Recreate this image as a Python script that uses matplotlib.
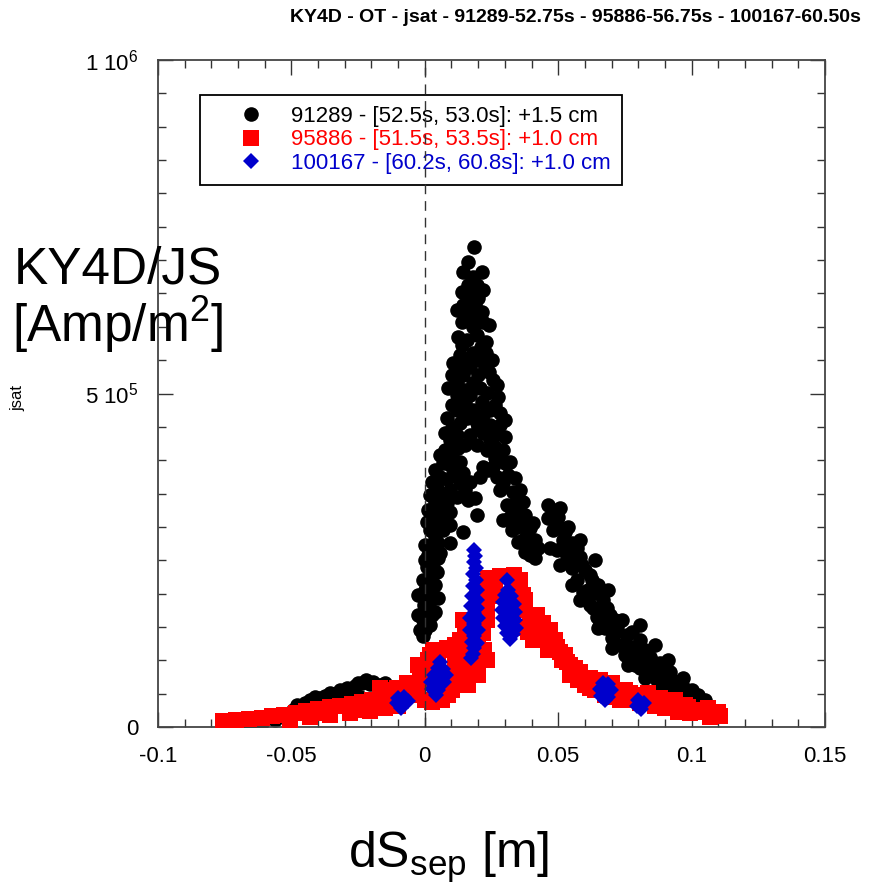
import matplotlib
matplotlib.use("Agg")
import matplotlib.pyplot as plt
from matplotlib.ticker import MultipleLocator

plt.rcParams['font.family'] = ['Liberation Sans', 'DejaVu Sans']
plt.rcParams['mathtext.fontset'] = 'custom'
plt.rcParams['mathtext.rm'] = 'Liberation Sans'
plt.rcParams['mathtext.it'] = 'Liberation Sans:italic'
plt.rcParams['mathtext.default'] = 'regular'

# --- data (x: dS_sep [m], y: jsat [A/m^2]) ---
# 91289: main peak, right shoulder, left tail
x_91289 = [0.0184, 0.0142, 0.0180, 0.0214, 0.0217, 0.0139, 0.0142, 0.0187, 0.0214, 0.0139,
           0.0217, 0.0180, 0.0124, 0.0195, 0.0229, 0.0131, 0.0180, 0.0229, 0.0120, 0.0169,
           0.0225, 0.0255, 0.0120, 0.0180, 0.0120, 0.0169, 0.0232, 0.0274, 0.0120, 0.0180,
           0.0244, 0.0281, 0.0082, 0.0131, 0.0195, 0.0244, 0.0075, 0.0120, 0.0169, 0.0217,
           0.0262, 0.0300, 0.0075, 0.0124, 0.0232, 0.0292, 0.0067, 0.0131, 0.0217, 0.0300,
           0.0056, 0.0105, 0.0142, 0.0206, 0.0270, 0.0311, 0.0045, 0.0094, 0.0150, 0.0281,
           0.0330, 0.0356, 0.0187, 0.0037, 0.0082, 0.0161, 0.0307, 0.0367, 0.0030, 0.0067,
           0.0195, 0.0319, 0.0375, 0.0019, 0.0067, 0.0142, 0.0345, 0.0394, 0.0049, 0.0094,
           0.0367, 0.0412, 0.0011, 0.0394, 0.0412, 0.0007, 0.0030, -0.0007, 0.0037, 0.0007,
           0.0011, -0.0007, -0.0019, 0.0000, 0.0405,
           0.0161, 0.0199, 0.0161, 0.0199, 0.0157, 0.0210, 0.0154, 0.0202, 0.0142, 0.0199,
           0.0240, 0.0150, 0.0206, 0.0101, 0.0150, 0.0214, 0.0262, 0.0157, 0.0217, 0.0281,
           0.0101, 0.0150, 0.0195, 0.0262, 0.0101, 0.0262, 0.0094, 0.0255, 0.0082, 0.0169,
           0.0292, 0.0067, 0.0120, 0.0345, 0.0056, 0.0337, 0.0045, 0.0356, 0.0037, 0.0382,
           0.0026, 0.0056, 0.0401, 0.0019, 0.0000, 0.0022, -0.0004, 0.0007, 0.0045, 0.0030,
           0.0026, -0.0007,
           0.0161, 0.0195, 0.0120, 0.0169, 0.0240, 0.0105, 0.0251, 0.0139, 0.0086, 0.0101,
           0.0270, 0.0139, 0.0300, 0.0199, 0.0094, 0.0244, 0.0056, 0.0319, 0.0037, 0.0120,
           0.0236, 0.0337, 0.0026, 0.0131, 0.0019, 0.0011, 0.0094, 0.0007, 0.0094, 0.0292,
           0.0326, 0.0349, 0.0375, 0.0424, 0.0049, 0.0000, 0.0000, 0.0049, 0.0037, 0.0019,
           -0.0026, -0.0026,
           0.0461, 0.0480, 0.0506, 0.0498, 0.0536, 0.0480, 0.0517, 0.0551, 0.0495, 0.0532,
           0.0581, 0.0506, 0.0551, 0.0600, 0.0570, 0.0626, 0.0592, 0.0641, 0.0581, 0.0618,
           0.0667, 0.0645, 0.0693, 0.0675, 0.0720, 0.0701, 0.0757, 0.0731, 0.0780, 0.0768,
           0.0813, 0.0832, 0.0862, 0.0881, 0.0907, 0.0892, 0.0937, 0.0945, 0.0982, 0.0993,
           0.1023, 0.1031, 0.1042,
           0.0487, 0.0525, 0.0562, 0.0588, 0.0611, 0.0656, 0.0656, 0.0712, 0.0750, 0.0806,
           0.0806, 0.0843, 0.0862, 0.0918, 0.0911, 0.0964, 0.0975, 0.1012, 0.1049,
           0.0461, 0.0506, 0.0469, 0.0570, 0.0525, 0.0543, 0.0618, 0.0648, 0.0611, 0.0630,
           0.0682, 0.0667, 0.0738, 0.0693, 0.0712, 0.0776, 0.0750, 0.0802, 0.0825, 0.0787,
           0.0851, 0.0881, 0.0870, 0.0896, 0.0926, 0.0956, 0.1001, 0.1012,
           0.0551, 0.0648, 0.0701, 0.0761, 0.0825, 0.0881, 0.0937,
           0.0581, 0.0637, 0.0686, 0.0806, 0.0862, 0.0911, 0.0967,
           -0.0656, -0.0611, -0.0562, -0.0513, -0.0480, -0.0469, -0.0431, -0.0401, -0.0375, -0.0345,
           -0.0319, -0.0292, -0.0262, -0.0236, -0.0206, -0.0169, -0.0139, -0.0120, -0.0319, -0.0244,
           -0.0169, -0.0394, -0.0281, -0.0450, -0.0412, -0.0356, -0.0251, -0.0221, -0.0195, -0.0150,
           -0.0495]
y_91289 = [720e3, 682e3, 675e3, 682e3, 655e3, 652e3, 633e3, 633e3, 622e3, 607e3,
           607e3, 600e3, 585e3, 588e3, 577e3, 558e3, 561e3, 561e3, 538e3, 540e3,
           538e3, 520e3, 516e3, 516e3, 498e3, 498e3, 501e3, 495e3, 475e3, 475e3,
           475e3, 471e3, 463e3, 456e3, 456e3, 453e3, 441e3, 438e3, 438e3, 441e3,
           438e3, 435e3, 415e3, 418e3, 415e3, 415e3, 396e3, 397e3, 390e3, 396e3,
           375e3, 378e3, 381e3, 375e3, 375e3, 378e3, 358e3, 355e3, 355e3, 355e3,
           352e3, 355e3, 343e3, 337e3, 336e3, 340e3, 333e3, 337e3, 318e3, 315e3,
           318e3, 315e3, 318e3, 295e3, 295e3, 292e3, 300e3, 298e3, 276e3, 276e3,
           280e3, 280e3, 258e3, 258e3, 253e3, 240e3, 246e3, 220e3, 213e3, 195e3,
           175e3, 160e3, 145e3, 145e3, 306e3,
           663e3, 643e3, 618e3, 613e3, 580e3, 570e3, 550e3, 550e3, 528e3, 528e3,
           532e3, 505e3, 508e3, 483e3, 486e3, 487e3, 483e3, 463e3, 468e3, 453e3,
           448e3, 423e3, 423e3, 420e3, 406e3, 403e3, 393e3, 390e3, 372e3, 367e3,
           366e3, 348e3, 345e3, 340e3, 325e3, 325e3, 307e3, 310e3, 285e3, 288e3,
           268e3, 261e3, 268e3, 228e3, 205e3, 190e3, 183e3, 160e3, 232e3, 198e3,
           168e3, 136e3,
           697e3, 663e3, 625e3, 648e3, 603e3, 546e3, 550e3, 573e3, 508e3, 528e3,
           513e3, 472e3, 460e3, 448e3, 430e3, 430e3, 408e3, 397e3, 385e3, 388e3,
           385e3, 373e3, 367e3, 366e3, 348e3, 325e3, 322e3, 307e3, 303e3, 310e3,
           295e3, 277e3, 262e3, 268e3, 253e3, 273e3, 250e3, 193e3, 172e3, 153e3,
           168e3, 198e3,
           333e3, 325e3, 328e3, 315e3, 300e3, 295e3, 280e3, 276e3, 265e3, 256e3,
           255e3, 243e3, 238e3, 235e3, 220e3, 220e3, 202e3, 201e3, 190e3, 183e3,
           190e3, 165e3, 168e3, 148e3, 150e3, 133e3, 138e3, 123e3, 120e3, 100e3,
           108e3, 93e3, 96e3, 81e3, 73e3, 60e3, 67e3, 55e3, 55e3, 45e3,
           48e3, 40e3, 36e3,
           310e3, 292e3, 262e3, 243e3, 205e3, 175e3, 157e3, 160e3, 108e3, 130e3,
           88e3, 105e3, 78e3, 82e3, 55e3, 63e3, 45e3, 37e3, 40e3,
           313e3, 298e3, 268e3, 268e3, 268e3, 250e3, 228e3, 213e3, 193e3, 178e3,
           178e3, 160e3, 160e3, 157e3, 141e3, 142e3, 123e3, 115e3, 115e3, 93e3,
           90e3, 96e3, 70e3, 66e3, 70e3, 52e3, 55e3, 45e3,
           213e3, 148e3, 118e3, 93e3, 73e3, 58e3, 48e3,
           280e3, 250e3, 205e3, 153e3, 123e3, 100e3, 73e3,
           3e3, 6e3, 10e3, 19e3, 33e3, 22e3, 40e3, 37e3, 46e3, 49e3,
           55e3, 58e3, 61e3, 66e3, 64e3, 63e3, 58e3, 52e3, 40e3, 45e3,
           45e3, 43e3, 52e3, 36e3, 45e3, 51e3, 66e3, 70e3, 67e3, 66e3,
           25e3]

x_95886 = [-0.0757, -0.0708, -0.0660, -0.0611, -0.0573, -0.0528, -0.0484, -0.0446, -0.0401, -0.0356,
           -0.0319, -0.0274, -0.0236, -0.0199, -0.0157, -0.0124, -0.0431, -0.0356, -0.0281, -0.0206,
           -0.0150, -0.0101, -0.0169, -0.0120, -0.0067, -0.0094, -0.0037, -0.0019, -0.0026,
           0.0030, 0.0082, 0.0112, 0.0101, 0.0124, 0.0131, 0.0169, 0.0199, 0.0157, 0.0150,
           0.0217, 0.0221, 0.0236, 0.0244, 0.0232, 0.0262, 0.0270, 0.0334, 0.0349, 0.0352,
           0.0375, 0.0394, 0.0420, 0.0431,
           0.0405, 0.0442, 0.0469, 0.0495, 0.0461, 0.0513, 0.0543, 0.0592, 0.0645, 0.0618,
           0.0705, 0.0731, 0.0768, 0.0832, 0.0862, 0.0892, 0.0956, 0.0993, 0.1019, 0.1068,
           0.1079, 0.1106,
           0.0420, 0.0487, 0.0506, 0.0532, 0.0562, 0.0573, 0.0618, 0.0675, 0.0731, 0.0806,
           0.0862, 0.0918, 0.0986, 0.1049, 0.1087, 0.0806, 0.0675, 0.0367, 0.0356,
           -0.0056, -0.0026, 0.0000, 0.0011, 0.0049, 0.0094, 0.0131, 0.0169, 0.0199, 0.0112,
           0.0086, 0.0150, -0.0506,
           0.0019, 0.0075, 0.0112, 0.0086, 0.0139, 0.0176, 0.0232, 0.0142, 0.0232, 0.0281,
           0.0225, 0.0375, 0.0405, 0.0386, 0.0364,
           0.0457, 0.0525, 0.0543, 0.0581, 0.0600, 0.0637, 0.0656, 0.0701, 0.0712, 0.0750,
           0.0780, 0.0836, 0.0881, 0.0900, 0.0937, 0.0948, 0.0975, 0.1031, 0.1061, 0.1098,
           -0.0409, -0.0244, -0.0176, -0.0124, -0.0105,
           0.0124, 0.0161, 0.0199, 0.0064, 0.0000, 0.0026]
y_95886 = [9e3, 10e3, 12e3, 13e3, 16e3, 18e3, 21e3, 24e3, 27e3, 30e3,
           31e3, 34e3, 37e3, 40e3, 43e3, 46e3, 15e3, 18e3, 21e3, 24e3,
           28e3, 31e3, 58e3, 55e3, 66e3, 45e3, 48e3, 70e3, 93e3,
           115e3, 118e3, 123e3, 55e3, 70e3, 96e3, 88e3, 100e3, 115e3, 145e3,
           141e3, 115e3, 223e3, 202e3, 181e3, 220e3, 196e3, 228e3, 205e3, 184e3,
           175e3, 153e3, 168e3, 130e3,
           168e3, 156e3, 145e3, 120e3, 115e3, 100e3, 78e3, 70e3, 66e3, 58e3,
           55e3, 40e3, 51e3, 40e3, 31e3, 36e3, 30e3, 21e3, 25e3, 15e3,
           21e3, 16e3,
           148e3, 130e3, 112e3, 97e3, 88e3, 70e3, 73e3, 61e3, 55e3, 48e3,
           43e3, 36e3, 30e3, 24e3, 16e3, 36e3, 48e3, 198e3, 220e3,
           48e3, 58e3, 82e3, 100e3, 108e3, 115e3, 130e3, 115e3, 130e3, 63e3,
           48e3, 70e3, 10e3,
           108e3, 115e3, 93e3, 70e3, 78e3, 100e3, 100e3, 160e3, 160e3, 226e3,
           205e3, 190e3, 130e3, 142e3, 148e3,
           130e3, 108e3, 93e3, 82e3, 63e3, 55e3, 70e3, 66e3, 45e3, 55e3,
           40e3, 51e3, 43e3, 28e3, 40e3, 22e3, 33e3, 22e3, 28e3, 22e3,
           21e3, 25e3, 33e3, 37e3, 58e3,
           112e3, 63e3, 78e3, 40e3, 40e3, 37e3]

x_100167 = [-0.0101, -0.0079, -0.0105, -0.0082, -0.0064, -0.0090,
            0.0056, 0.0049, 0.0067, 0.0034, 0.0056, 0.0079, 0.0022, 0.0045, 0.0071, 0.0026,
            0.0049, 0.0041,
            0.0184, 0.0187, 0.0184, 0.0191, 0.0180, 0.0191, 0.0180, 0.0195, 0.0176, 0.0195,
            0.0172, 0.0195, 0.0184, 0.0169, 0.0199, 0.0184, 0.0169, 0.0199, 0.0184, 0.0176,
            0.0195, 0.0184, 0.0180, 0.0172,
            0.0307, 0.0311, 0.0300, 0.0322, 0.0292, 0.0315, 0.0334, 0.0289, 0.0311, 0.0337,
            0.0292, 0.0315, 0.0337, 0.0300, 0.0322, 0.0341, 0.0307, 0.0330, 0.0319,
            0.0667, 0.0686, 0.0656, 0.0678, 0.0697, 0.0660, 0.0686, 0.0675,
            0.0798, 0.0821, 0.0795, 0.0810]
y_100167 = [43e3, 45e3, 36e3, 36e3, 39e3, 28e3,
            97e3, 88e3, 87e3, 78e3, 76e3, 78e3, 67e3, 66e3, 67e3, 57e3,
            55e3, 48e3,
            265e3, 256e3, 247e3, 238e3, 229e3, 220e3, 211e3, 205e3, 196e3, 190e3,
            181e3, 178e3, 171e3, 163e3, 163e3, 154e3, 145e3, 145e3, 136e3, 127e3,
            126e3, 118e3, 109e3, 103e3,
            220e3, 205e3, 198e3, 196e3, 187e3, 186e3, 184e3, 175e3, 174e3, 172e3,
            163e3, 162e3, 160e3, 151e3, 150e3, 148e3, 141e3, 139e3, 132e3,
            66e3, 64e3, 57e3, 55e3, 55e3, 46e3, 45e3, 40e3,
            40e3, 36e3, 31e3, 27e3]

labels = ['91289 - [52.5s, 53.0s]: +1.5 cm',
          '95886 - [51.5s, 53.5s]: +1.0 cm',
          '100167 - [60.2s, 60.8s]: +1.0 cm']
colors = ['#000000', '#ff0000', '#0000cc']

x_ticks = [-0.1, -0.05, 0, 0.05, 0.1, 0.15]
x_ticklabels = ['-0.1', '-0.05', '0', '0.05', '0.1', '0.15']
y_ticks = [0, 5e5, 1e6]
y_ticklabels = ['0', '5 10$^{5}$', '1 10$^{6}$']

fig = plt.figure(figsize=(8.7, 8.9), dpi=100)
ax = fig.add_axes([158/870, 1 - 727/890, 667/870, 667/890])

ax.plot(x_91289, y_91289, 'o', ms=10.5, color=colors[0], mew=0, ls='none', label=labels[0], zorder=2)
ax.plot(x_95886, y_95886, 's', ms=11, color=colors[1], mew=0, ls='none', label=labels[1], zorder=3)
ax.plot(x_100167, y_100167, 'D', ms=8.5, color=colors[2], mew=0, ls='none', label=labels[2], zorder=4)

ax.axvline(0, color='#333333', lw=1, ls=(0, (7, 5)), zorder=6)

ax.set_xlim(-0.1, 0.15)
ax.set_ylim(0, 1e6)
ax.set_xticks(x_ticks)
ax.set_xticklabels(x_ticklabels)
ax.set_yticks(y_ticks)
ax.set_yticklabels(y_ticklabels)
ax.xaxis.set_minor_locator(MultipleLocator(0.01))
ax.yaxis.set_minor_locator(MultipleLocator(5e4))
ax.tick_params(which='both', direction='in', top=True, right=True, labelsize=16, color='#333333')
ax.tick_params(which='major', length=11, width=1)
ax.tick_params(which='minor', length=6, width=1)
ax.tick_params(axis='y', pad=14)
ax.tick_params(axis='x', pad=14)
for s in ax.spines.values():
    s.set_color('#444444')
    s.set_linewidth(1.3)

leg = ax.legend(loc='upper left', bbox_to_anchor=(42/667, 632/667), borderaxespad=0,
                fontsize=16, handlelength=3.6, handletextpad=0.0, borderpad=0.5,
                labelspacing=0.1, numpoints=1, fancybox=False, framealpha=1,
                edgecolor='black', labelcolor=colors)
leg.get_frame().set_linewidth(1.3)

fig.text(575/870, 1 - 18/890, 'KY4D - OT - jsat - 91289-52.75s - 95886-56.75s - 100167-60.50s',
         ha='center', va='center', fontsize=14, fontweight='bold')
fig.text(118/870, 1 - 300/890, 'KY4D/JS\n[Amp/m$^{2}$]', ha='center', va='center',
         fontsize=37, linespacing=1.0, multialignment='center')
fig.text(18/870, 1 - 398/890, 'jsat', ha='center', va='center', rotation=90, fontsize=12)
fig.text(449/870, 1 - 868/890, 'dS$_{sep}$ [m]', ha='center', va='baseline', fontsize=36)

fig.savefig('out.png', dpi=100)
